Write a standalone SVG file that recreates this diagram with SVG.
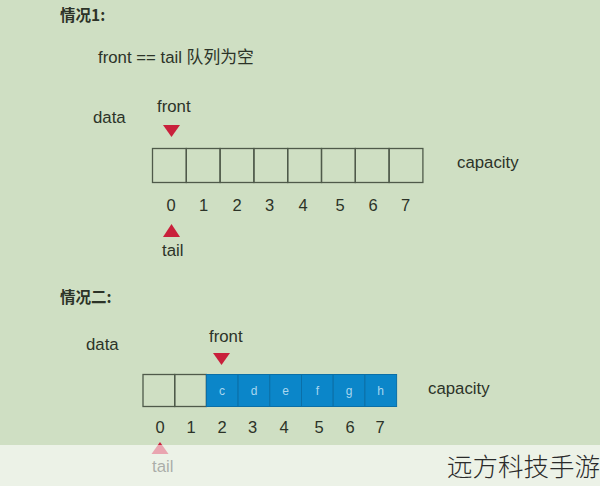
<svg xmlns="http://www.w3.org/2000/svg" width="600" height="486" viewBox="0 0 600 486">
<style>
.t{font-family:"Liberation Sans","Noto Sans CJK SC",sans-serif;fill:#2c3328;}
.h{font-size:15.5px;font-family:"Noto Sans CJK SC","Liberation Sans",sans-serif;fill:#2c3328;font-weight:bold;}
.lab{font-size:16.8px;}
.idx{font-size:16.5px;text-anchor:middle;}
.cell{fill:none;stroke:#4f5a4a;stroke-width:1.3;}
.bcell{fill:#0b86c9;stroke:#0a6fa8;stroke-width:1;}
.let{font-family:"Liberation Sans",sans-serif;font-size:12px;fill:#a9d6ef;text-anchor:middle;}
.tri{fill:#c9203b;}
</style>
<rect x="0" y="0" width="600" height="486" fill="#cfdfc3"/>

<g id="case1">
  <text class="h" x="60" y="21">情况1:</text>
  <text class="t lab" x="98" y="63">front == tail 队列为空</text>
  <text class="t lab" x="93" y="123">data</text>
  <text class="t lab" x="157" y="112">front</text>
  <polygon class="tri" points="163,125 180,125 171.5,137"/>
  <g id="array1">
    <rect class="cell" x="152.5" y="148.5" width="33.8" height="34"/>
    <rect class="cell" x="186.3" y="148.5" width="33.8" height="34"/>
    <rect class="cell" x="220.1" y="148.5" width="33.8" height="34"/>
    <rect class="cell" x="253.9" y="148.5" width="33.8" height="34"/>
    <rect class="cell" x="287.7" y="148.5" width="33.8" height="34"/>
    <rect class="cell" x="321.5" y="148.5" width="33.8" height="34"/>
    <rect class="cell" x="355.3" y="148.5" width="33.8" height="34"/>
    <rect class="cell" x="389.1" y="148.5" width="33.8" height="34"/>
  </g>
  <text class="t idx" x="171" y="211">0</text>
  <text class="t idx" x="203.5" y="211">1</text>
  <text class="t idx" x="237" y="211">2</text>
  <text class="t idx" x="269.5" y="211">3</text>
  <text class="t idx" x="303" y="211">4</text>
  <text class="t idx" x="340" y="211">5</text>
  <text class="t idx" x="373" y="211">6</text>
  <text class="t idx" x="405.5" y="211">7</text>
  <polygon class="tri" points="171.5,224 180,237 163,237"/>
  <text class="t lab" x="162" y="256">tail</text>
  <text class="t lab" x="457" y="168">capacity</text>
</g>

<g id="case2">
  <text class="h" x="60" y="303">情况二:</text>
  <text class="t lab" x="86" y="350">data</text>
  <text class="t lab" x="209" y="342">front</text>
  <polygon class="tri" points="213,353 230,353 221.5,365"/>
  <g id="array2">
    <rect class="cell" x="143" y="374.5" width="31.7" height="32"/>
    <rect class="cell" x="174.7" y="374.5" width="31.7" height="32"/>
    <rect class="bcell" x="206.4" y="374.5" width="31.7" height="32"/>
    <rect class="bcell" x="238.1" y="374.5" width="31.7" height="32"/>
    <rect class="bcell" x="269.8" y="374.5" width="31.7" height="32"/>
    <rect class="bcell" x="301.5" y="374.5" width="31.7" height="32"/>
    <rect class="bcell" x="333.2" y="374.5" width="31.7" height="32"/>
    <rect class="bcell" x="364.9" y="374.5" width="31.7" height="32"/>
    <text class="let" x="222" y="394.5">c</text>
    <text class="let" x="254" y="394.5">d</text>
    <text class="let" x="285.5" y="394.5">e</text>
    <text class="let" x="317.5" y="394.5">f</text>
    <text class="let" x="349" y="394.5">g</text>
    <text class="let" x="380.5" y="394.5">h</text>
  </g>
  <text class="t idx" x="160" y="433">0</text>
  <text class="t idx" x="191" y="433">1</text>
  <text class="t idx" x="222" y="433">2</text>
  <text class="t idx" x="252.5" y="433">3</text>
  <text class="t idx" x="284" y="433">4</text>
  <text class="t idx" x="319" y="433">5</text>
  <text class="t idx" x="350" y="433">6</text>
  <text class="t idx" x="380" y="433">7</text>
  <polygon class="tri" points="160,442 168.5,454 151.5,454"/>
  <text class="t lab" x="152" y="472">tail</text>
  <text class="t lab" x="428" y="394">capacity</text>
</g>

<rect x="0" y="445" width="600" height="41" fill="#ffffff" fill-opacity="0.6"/>
<text x="447" y="476" style="font-family:'Noto Sans CJK SC',sans-serif;font-size:25.5px;font-weight:300;fill:#2a2a2a;">远方科技手游</text>
</svg>
